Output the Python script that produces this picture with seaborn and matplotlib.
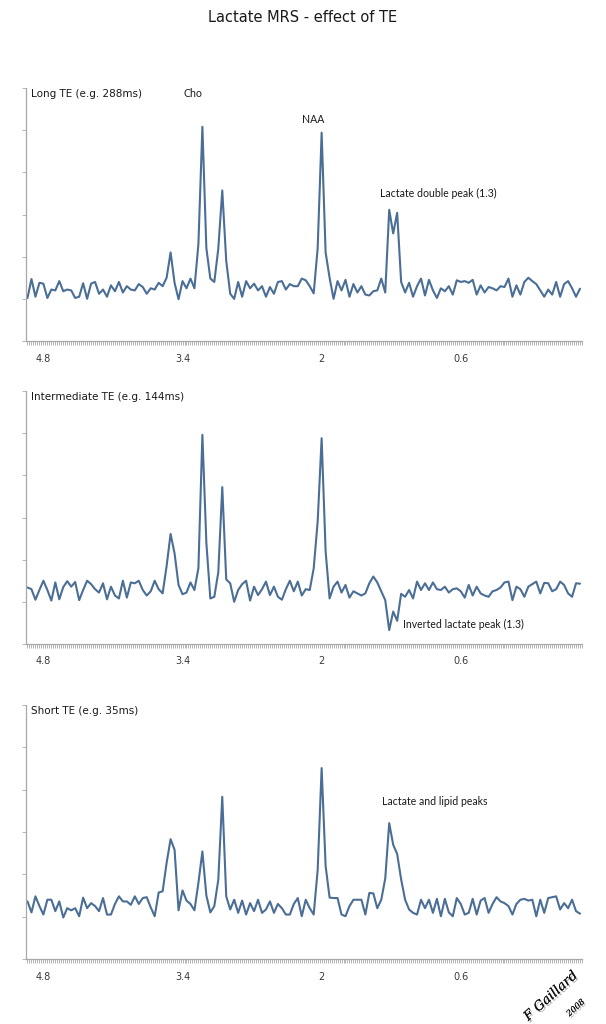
import numpy as np
import matplotlib
matplotlib.use("Agg")
import matplotlib.pyplot as plt
import matplotlib.patheffects as pe
from matplotlib.ticker import MultipleLocator, FixedLocator
import seaborn as sns

# chemical shift grid (ppm)
ppm = np.round(np.linspace(4.96, -0.60, 140), 2)

long_te = [
    1.02, 1.47, 1.05, 1.38, 1.36, 1.02, 1.22, 1.20, 1.42, 1.18,
    1.22, 1.20, 1.02, 1.05, 1.37, 1.00, 1.36, 1.40, 1.12, 1.22,
    1.05, 1.32, 1.18, 1.40, 1.15, 1.30, 1.22, 1.20, 1.35, 1.28,
    1.12, 1.25, 1.22, 1.38, 1.30, 1.50, 2.10, 1.38, 0.99, 1.42,
    1.25, 1.48, 1.25, 2.30, 5.08, 2.20, 1.48, 1.40, 2.19, 3.57,
    1.90, 1.12, 1.00, 1.40, 1.05, 1.42, 1.25, 1.36, 1.20, 1.30,
    1.05, 1.28, 1.12, 1.40, 1.42, 1.22, 1.35, 1.30, 1.30, 1.48,
    1.44, 1.30, 1.13, 2.20, 4.94, 2.10, 1.50, 1.00, 1.42, 1.20,
    1.45, 1.05, 1.35, 1.15, 1.30, 1.10, 1.08, 1.18, 1.20, 1.48,
    1.15, 3.11, 2.55, 3.04, 1.40, 1.15, 1.38, 1.05, 1.30, 1.48,
    1.08, 1.45, 1.20, 1.02, 1.25, 1.18, 1.30, 1.10, 1.44, 1.40,
    1.42, 1.38, 1.45, 1.10, 1.32, 1.15, 1.28, 1.25, 1.20, 1.30,
    1.28, 1.48, 1.05, 1.32, 1.10, 1.40, 1.50, 1.42, 1.35, 1.20,
    1.05, 1.22, 1.10, 1.40, 1.05, 1.35, 1.42, 1.25, 1.05, 1.24,
]

intermediate_te = [
    1.34, 1.30, 1.05, 1.28, 1.50, 1.28, 1.03, 1.46, 1.06, 1.35,
    1.49, 1.36, 1.47, 1.04, 1.28, 1.50, 1.42, 1.30, 1.22, 1.44,
    1.06, 1.36, 1.15, 1.08, 1.50, 1.10, 1.46, 1.44, 1.50, 1.28,
    1.15, 1.25, 1.50, 1.30, 1.20, 1.85, 2.61, 2.15, 1.40, 1.18,
    1.22, 1.46, 1.28, 1.80, 4.96, 2.40, 1.08, 1.12, 1.70, 3.72,
    1.53, 1.44, 1.00, 1.28, 1.42, 1.50, 1.03, 1.36, 1.16, 1.30,
    1.48, 1.16, 1.36, 1.12, 1.05, 1.30, 1.50, 1.25, 1.48, 1.15,
    1.30, 1.28, 1.79, 2.90, 4.88, 2.20, 1.08, 1.36, 1.48, 1.22,
    1.40, 1.10, 1.25, 1.20, 1.15, 1.20, 1.44, 1.60, 1.46, 1.25,
    1.04, 0.33, 0.77, 0.55, 1.19, 1.12, 1.28, 1.08, 1.48, 1.28,
    1.44, 1.28, 1.46, 1.30, 1.28, 1.36, 1.22, 1.30, 1.32, 1.25,
    1.10, 1.40, 1.15, 1.36, 1.20, 1.15, 1.12, 1.25, 1.28, 1.34,
    1.46, 1.48, 1.04, 1.36, 1.30, 1.12, 1.36, 1.42, 1.48, 1.20,
    1.45, 1.44, 1.25, 1.30, 1.48, 1.40, 1.20, 1.12, 1.44, 1.43,
]

short_te = [
    1.36, 1.10, 1.48, 1.25, 1.05, 1.40, 1.40, 1.13, 1.36, 0.98,
    1.20, 1.15, 1.20, 1.01, 1.45, 1.20, 1.32, 1.25, 1.13, 1.44,
    1.05, 1.05, 1.30, 1.48, 1.36, 1.36, 1.28, 1.48, 1.30, 1.44,
    1.46, 1.22, 1.01, 1.57, 1.60, 2.27, 2.83, 2.58, 1.15, 1.62,
    1.38, 1.30, 1.15, 1.80, 2.54, 1.50, 1.10, 1.25, 1.87, 3.83,
    1.48, 1.17, 1.40, 1.09, 1.38, 1.05, 1.32, 1.13, 1.40, 1.09,
    1.17, 1.36, 1.09, 1.30, 1.20, 1.05, 1.05, 1.30, 1.44, 1.01,
    1.40, 1.20, 1.05, 2.10, 4.51, 2.20, 1.45, 1.44, 1.44, 1.05,
    1.01, 1.25, 1.40, 1.40, 1.40, 1.05, 1.56, 1.55, 1.20, 1.40,
    1.90, 3.21, 2.70, 2.48, 1.88, 1.40, 1.17, 1.09, 1.05, 1.40,
    1.20, 1.40, 1.09, 1.42, 1.01, 1.42, 1.10, 1.01, 1.44, 1.30,
    1.05, 1.09, 1.42, 1.05, 1.38, 1.44, 1.09, 1.30, 1.46, 1.36,
    1.32, 1.25, 1.05, 1.30, 1.40, 1.42, 1.38, 1.40, 1.01, 1.40,
    1.09, 1.44, 1.46, 1.48, 1.17, 1.32, 1.20, 1.40, 1.13, 1.07,
]

panel_titles = ["Long TE (e.g. 288ms)", "Intermediate TE (e.g. 144ms)", "Short TE (e.g. 35ms)"]
tick_ppm = [4.8, 3.4, 2.0, 0.6]
tick_text = ["4.8", "3.4", "2", "0.6"]

sns.set_theme(style="white")
plt.rcParams["font.family"] = ["DejaVu Sans"]

LINE = "#4b6e96"
AXIS = "#a8a8a8"

fig = plt.figure(figsize=(6.06, 10.24), dpi=100)
fig.text(0.5, 1 - 18 / 1024, "Lactate MRS - effect of TE", ha="center", va="center",
         fontsize=10.5, color="#1a1a1a")

# axes boxes in figure fractions (bottom, top)
boxes = [(1 - 341 / 1024, 1 - 88 / 1024), (1 - 644 / 1024, 1 - 391 / 1024), (1 - 959 / 1024, 1 - 705 / 1024)]
series = [long_te, intermediate_te, short_te]

axes = []
for (b, t), vals, title in zip(boxes, series, panel_titles):
    ax = fig.add_axes([26 / 606, b, 556 / 606, t - b])
    sns.lineplot(x=ppm, y=vals, ax=ax, color=LINE, lw=1.5, sort=False)
    ax.set_xlim(4.975, -0.62)
    ax.set_ylim(0, 6)
    for side in ["top", "right"]:
        ax.spines[side].set_visible(False)
    for side in ["left", "bottom"]:
        ax.spines[side].set_color(AXIS)
        ax.spines[side].set_linewidth(0.9)
    ax.xaxis.set_major_locator(FixedLocator(tick_ppm))
    ax.set_xticklabels(tick_text)
    ax.xaxis.set_minor_locator(MultipleLocator(0.02))
    ax.set_yticks(range(0, 7))
    ax.set_yticklabels([])
    ax.tick_params(axis="x", which="both", direction="out", length=3, width=0.6,
                   color=AXIS, labelsize=7, labelcolor="#3a3a3a", pad=6, bottom=True)
    ax.tick_params(axis="y", which="major", direction="out", length=3, width=0.6,
                   color=AXIS, left=True)
    ax.set_xlabel("")
    ax.set_ylabel("")
    ax.patch.set_alpha(0)
    fig.text(31 / 606, t - 6 / 1024, title, ha="left", va="center", fontsize=7.5, color="#1a1a1a")
    axes.append(ax)

note_kw = dict(fontsize=7.6, color="#1a1a1a", family=["Lato", "DejaVu Sans"])
axes[0].text(3.30, 5.88, "Cho", ha="center", va="center", **note_kw)
axes[0].text(2.09, 5.26, "NAA", ha="center", va="center", **note_kw)
axes[0].text(1.41, 3.51, "Lactate double peak (1.3)", ha="left", va="center", **note_kw)
axes[1].text(1.18, 0.47, "Inverted lactate peak (1.3)", ha="left", va="center", **note_kw)
axes[2].text(1.39, 3.71, "Lactate and lipid peaks", ha="left", va="center", **note_kw)

shadow = [pe.withSimplePatchShadow(offset=(1.2, -1.2), shadow_rgbFace="#9a9a9a", alpha=0.8), pe.Normal()]
fig.text(551 / 606, 1 - 996 / 1024, "F Gaillard", ha="center", va="center", rotation=42,
         fontsize=9.5, style="italic", family="DejaVu Serif", color="#111111", path_effects=shadow)
fig.text(576 / 606, 1 - 1008 / 1024, "2008", ha="center", va="center", rotation=42,
         fontsize=6, style="italic", family="DejaVu Serif", color="#111111", path_effects=shadow)

fig.savefig("out.png", dpi=100, facecolor="white")
